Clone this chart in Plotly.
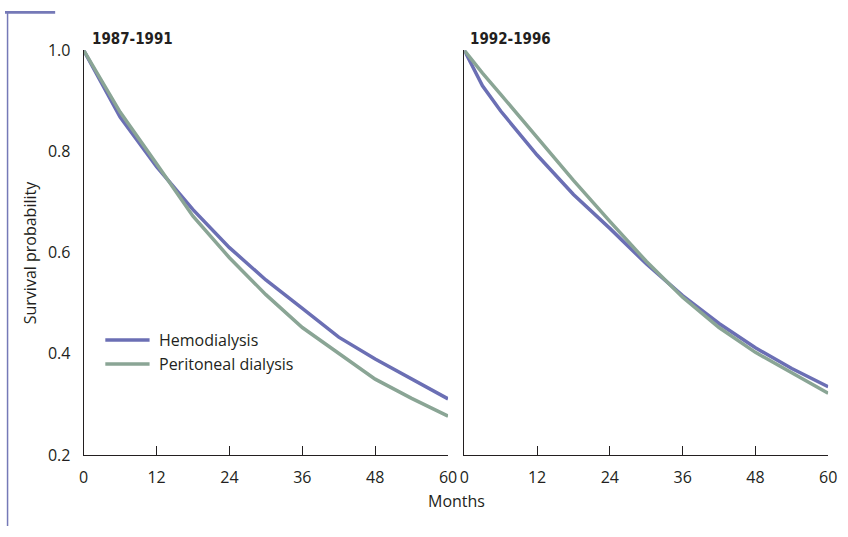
import plotly.graph_objects as go

# Kaplan-Meier style survival estimates by dialysis modality and cohort
months = [0, 3, 6, 12, 18, 24, 30, 36, 42, 48, 54, 60]

hd_1987 = [1.0, 0.933, 0.868, 0.770, 0.685, 0.610, 0.546, 0.490, 0.433, 0.390, 0.350, 0.311]
pd_1987 = [1.0, 0.939, 0.878, 0.776, 0.672, 0.590, 0.517, 0.452, 0.400, 0.350, 0.312, 0.277]
hd_1992 = [1.0, 0.930, 0.880, 0.793, 0.715, 0.648, 0.578, 0.515, 0.460, 0.412, 0.371, 0.335]
pd_1992 = [1.0, 0.955, 0.913, 0.827, 0.743, 0.662, 0.583, 0.512, 0.452, 0.403, 0.362, 0.322]

series_names = ["Hemodialysis", "Peritoneal dialysis"]
panel_titles = ["1987-1991", "1992-1996"]
x_ticks = [0, 12, 24, 36, 48, 60]
y_ticks = [0.2, 0.4, 0.6, 0.8, 1.0]

HD_COLOR = "#6b6fb4"
PD_COLOR = "#8aa595"
INK = "#231f20"
ACCENT = "#7579b7"
W, H = 848, 537
TITLE_FONT = "DejaVu Sans Condensed"

fig = go.Figure()

panels = [("x", "y", hd_1987, pd_1987), ("x2", "y2", hd_1992, pd_1992)]
for xa, ya, hd, pdv in panels:
    for vals, name, color in [(hd, series_names[0], HD_COLOR), (pdv, series_names[1], PD_COLOR)]:
        fig.add_trace(go.Scatter(
            x=months, y=vals, name=name, mode="lines",
            line=dict(color=color, width=3.5),
            xaxis=xa, yaxis=ya, showlegend=False,
        ))

axis_common = dict(
    showgrid=False, zeroline=False, showline=True,
    linecolor=INK, linewidth=1, mirror=False,
)

fig.update_layout(
    width=W, height=H,
    margin=dict(l=0, r=0, t=0, b=0),
    paper_bgcolor="white", plot_bgcolor="white",
    font=dict(family="Open Sans", color=INK, size=16),
    xaxis=dict(domain=[80 / W, 450.5 / W], range=[0, 60], tickvals=x_ticks,
               ticks="inside", ticklen=9, tickcolor=INK, tickwidth=1,
               ticklabelstandoff=8, anchor="y", **axis_common),
    xaxis2=dict(domain=[467 / W, 837 / W], range=[0, 60], tickvals=x_ticks,
                ticks="inside", ticklen=9, tickcolor=INK, tickwidth=1,
                ticklabelstandoff=8, anchor="y2", **axis_common),
    yaxis=dict(domain=[1 - 463 / H, 1 - 41 / H], range=[0.2, 1.0], tickvals=y_ticks,
               tickformat=".1f", ticks="", ticklabelstandoff=9, anchor="x", **axis_common),
    yaxis2=dict(domain=[1 - 463 / H, 1 - 41 / H], range=[0.2, 1.0], tickvals=y_ticks,
                showticklabels=False, ticks="", anchor="x2", **axis_common),
)

annotations = [
    dict(text="<b>%s</b>" % panel_titles[0], x=86 / W, y=1 - 29 / H, xref="paper", yref="paper",
         xanchor="left", yanchor="middle", showarrow=False,
         font=dict(family=TITLE_FONT, size=15, color=INK)),
    dict(text="<b>%s</b>" % panel_titles[1], x=471 / W, y=1 - 29 / H, xref="paper", yref="paper",
         xanchor="left", yanchor="middle", showarrow=False,
         font=dict(family=TITLE_FONT, size=15, color=INK)),
    dict(text="Survival probability", x=25 / W, y=1 - 252 / H, xref="paper", yref="paper",
         textangle=-90, xanchor="center", yanchor="middle", showarrow=False,
         font=dict(size=16)),
    dict(text="Months", x=459 / W, y=1 - 511 / H, xref="paper", yref="paper",
         xanchor="center", yanchor="middle", showarrow=False, font=dict(size=16)),
]

# Legend: sample line plus label for each modality
legend_rows = [(series_names[0], HD_COLOR, 343), (series_names[1], PD_COLOR, 368)]
shapes = []
for name, color, ypx in legend_rows:
    shapes.append(dict(type="line", xref="paper", yref="paper",
                       x0=102 / W, x1=147 / W, y0=1 - ypx / H, y1=1 - ypx / H,
                       line=dict(color=color, width=3.5)))
    annotations.append(dict(text=name, x=155 / W, y=1 - ypx / H, xref="paper", yref="paper",
                            xanchor="left", yanchor="middle", showarrow=False,
                            font=dict(size=16)))

# Page accent: thin rule down the left edge and a short bar at the top
shapes.append(dict(type="line", xref="paper", yref="paper", x0=2.6 / W, x1=2.6 / W, y0=0, y1=1,
                   line=dict(color=ACCENT, width=1.5)))
shapes.append(dict(type="rect", xref="paper", yref="paper", x0=0, x1=51 / W, y0=1 - 2.8 / H, y1=1,
                   line=dict(width=0), fillcolor=ACCENT))

fig.update_layout(annotations=annotations, shapes=shapes)

fig.write_html("out.html")
